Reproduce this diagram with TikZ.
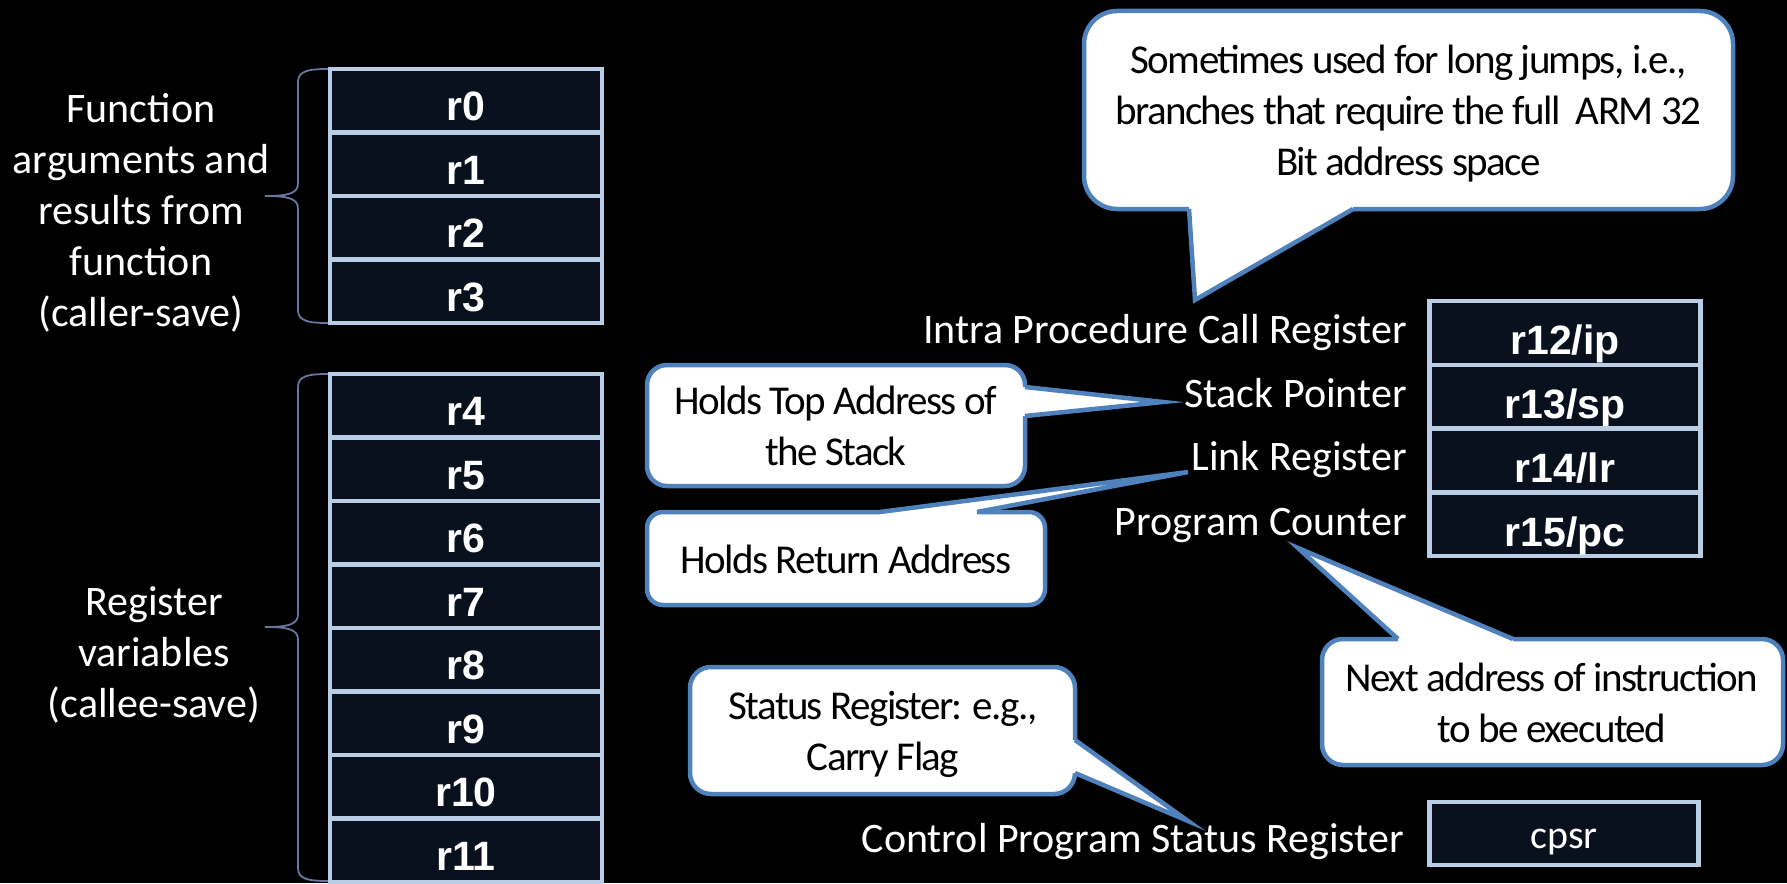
\documentclass[tikz,border=0pt]{standalone}
\usepackage{fontspec}
\setmainfont{Carlito}
\newfontfamily\regfont{Liberation Sans}
\newfontfamily\callfont{Carlito}[LetterSpace=-4]
\definecolor{cellfill}{RGB}{10,17,30}
\definecolor{cellline}{RGB}{185,205,229}
\definecolor{callline}{RGB}{79,129,189}
\definecolor{bracecol}{RGB}{105,118,160}
\begin{document}
\begin{tikzpicture}[x=1pt,y=-1pt,
  reg/.style={draw=cellline, fill=cellfill, line width=4.5pt, inner sep=0pt, outer sep=0pt,
     minimum width=272pt, minimum height=63.5pt, text=white,
     font=\regfont\bfseries\fontsize{41}{49}\selectfont, text height=40pt, text depth=0pt, anchor=north},
  lbl/.style={text=white, inner sep=0pt, font=\fontsize{42}{51}\selectfont},
  cbox/.style={draw=callline, fill=white, line width=4.5pt, inner sep=0pt, outer sep=0pt},
  ctext/.style={text=black, inner sep=0pt, align=center, font=\callfont\fontsize{41}{51}\selectfont},
  tailline/.style={draw=callline, line width=4.5pt, line join=miter},
  bracel/.style={draw=bracecol, line width=1.8pt}
]
\fill[black] (0,0) rectangle (1787,883);
\useasboundingbox (0,0) rectangle (1787,883);

% left register stacks
\foreach \i in {0,...,3}
  \node[reg] (r\i) at (466,{69+63.5*\i}) {r\i};
\foreach \i in {4,...,11}
  \node[reg] (r\i) at (466,{374+63.5*(\i-4)}) {r\i};

% right register stack
\foreach \i/\t [count=\k from 0] in {12/ip,13/sp,14/lr,15/pc}
  \node[reg, minimum width=271pt, minimum height=63.75pt, text height=44pt] (r\i) at (1565,{301+63.75*\k}) {r\i/\t};

\node[reg, anchor=center, minimum width=269pt, minimum height=63pt,
      font=\fontsize{40}{48}\selectfont, text height=29pt] (cpsr) at (1564,833.5) {cpsr};

% labels
\node[lbl, anchor=base east] (lip) at (1407,343) {Intra Procedure Call Register};
\node[lbl, anchor=base east] (lsp) at (1407,407) {Stack Pointer};
\node[lbl, anchor=base east] (llr) at (1407,470) {Link Register};
\node[lbl, anchor=base east] (lpc) at (1407,535) {Program Counter};
\node[lbl, anchor=base east] (lcpsr) at (1404,852) {Control Program Status Register};

\node[lbl, align=center, anchor=base] (targs) at (141,326)
  {Function\\arguments and\\results from\\function\\(caller-save)};
\node[lbl, align=center, anchor=base] (tregs) at (154,717)
  {Register\\variables\\(callee-save)};

% braces
\draw[bracel] (328,69) .. controls (308,69) and (298,71) .. (298,82) -- (298,183)
  .. controls (298,193) and (290,196) .. (265,196)
  .. controls (290,196) and (298,199) .. (298,209) -- (298,310)
  .. controls (298,321) and (308,323) .. (328,323);
\draw[bracel] (328,374) .. controls (308,374) and (298,376) .. (298,387) -- (298,614)
  .. controls (298,624) and (290,627) .. (265,627)
  .. controls (290,627) and (298,630) .. (298,640) -- (298,868)
  .. controls (298,879) and (308,881) .. (328,881);

% callout: top
\node[cbox, rounded corners=33pt, minimum width=649pt, minimum height=198pt] (cTop) at (1408.5,110) {};
\coordinate (tipTop) at (1195,300);
\fill[white] (1189,203) -- (1189,209) -- (tipTop) -- (1353,209) -- (1353,203) -- cycle;
\draw[tailline] (1189,209) -- (tipTop) -- (1353,209);
\node[ctext, anchor=base] (tTop) at (1408.5,175)
  {Sometimes used for long jumps, i.e.,\\branches that require the full~ ARM 32\\Bit address space};

% callout: holds top address
\node[cbox, rounded corners=20pt, minimum width=378pt, minimum height=121pt] (cSP) at (836,425.5) {};
\coordinate (tipSP) at (1163,402);
\fill[white] (1019,387) -- (1025,387) -- (tipSP) -- (1025,416) -- (1019,416) -- cycle;
\draw[tailline] (1025,387) -- (tipSP) -- (1025,416);
\node[ctext, anchor=base] (tSP) at (836,465) {Holds Top Address of\\the Stack};

% callout: holds return address
\node[cbox, rounded corners=16pt, minimum width=398pt, minimum height=93pt] (cLR) at (846,558.5) {};
\coordinate (tipLR) at (1188,472);
\fill[white] (880,518) -- (880,512) -- (tipLR) -- (977,512) -- (977,518) -- cycle;
\draw[tailline] (880,512) -- (tipLR) -- (977,512);
\node[ctext, anchor=base] (tLR) at (846,573) {Holds Return Address};

% callout: status register
\node[cbox, rounded corners=21pt, minimum width=385pt, minimum height=127pt] (cSR) at (882.5,730.5) {};
\coordinate (tipSR) at (1188,821);
\fill[white] (1069,740) -- (1075,740) -- (tipSR) -- (1075,773) -- (1069,773) -- cycle;
\draw[tailline] (1075,740) -- (tipSR) -- (1075,773);
\node[ctext, anchor=base] (tSR) at (883,770) {Status Register: e.g.,\\Carry Flag};

% callout: next address
\node[cbox, rounded corners=21pt, minimum width=461pt, minimum height=126pt] (cPC) at (1552.5,702) {};
\coordinate (tipPC) at (1298,548);
\fill[white] (1398,645) -- (1398,639) -- (tipPC) -- (1513,639) -- (1513,645) -- cycle;
\draw[tailline] (1398,639) -- (tipPC) -- (1513,639);
\node[ctext, anchor=base] (tPC) at (1552,742) {Next address of instruction\\to be executed};
\end{tikzpicture}
\end{document}
